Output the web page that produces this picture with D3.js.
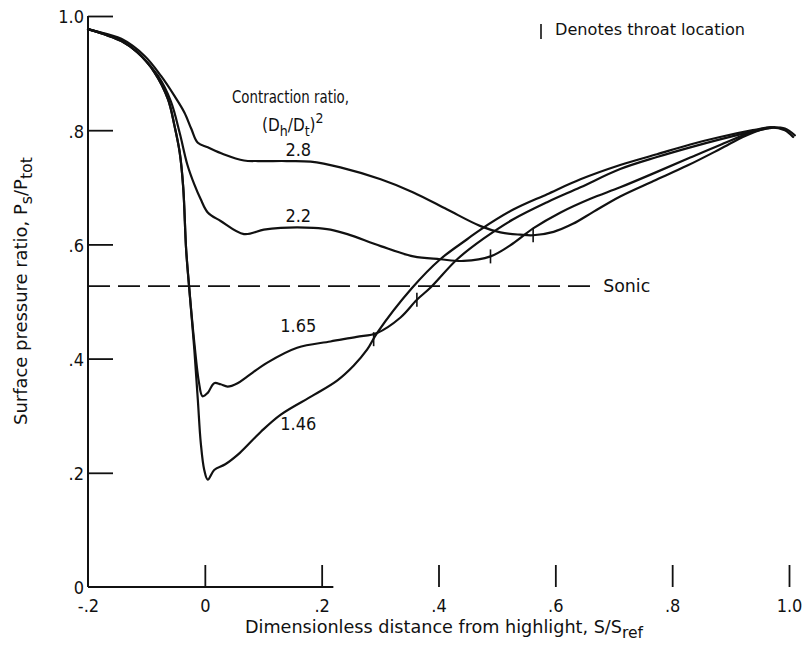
<!DOCTYPE html>
<html>
<head>
<meta charset="utf-8">
<script src="https://cdn.jsdelivr.net/npm/d3@7"></script>
<style>
  html, body { margin: 0; padding: 0; background: #fff; }
  svg { display: block; }
  text { font-family: "DejaVu Sans Condensed", "Liberation Sans Narrow", "DejaVu Sans", sans-serif; fill: #111; }
</style>
</head>
<body>
<script>
// ---------- DATA ----------
const xTicks = [-0.2, 0, 0.2, 0.4, 0.6, 0.8, 1.0];
const xTickLabels = ["-.2", "0", ".2", ".4", ".6", ".8", "1.0"];
const yTicks = [0, 0.2, 0.4, 0.6, 0.8, 1.0];
const yTickLabels = ["0", ".2", ".4", ".6", ".8", "1.0"];

const sonicRatio = 0.527;
const curveLabels = ["2.8", "2.2", "1.65", "1.46"];

const curve28 = [[-0.2,0.977],[-0.189,0.974],[-0.143,0.960],[-0.103,0.930],[-0.075,0.895],[-0.052,0.860],[-0.035,0.831],[-0.023,0.802],[-0.012,0.778],[0.005,0.770],[0.032,0.758],[0.067,0.747],[0.091,0.746],[0.14,0.746],[0.181,0.745],[0.232,0.735],[0.301,0.714],[0.357,0.691],[0.415,0.661],[0.472,0.632],[0.506,0.621],[0.540,0.617],[0.562,0.616],[0.597,0.622],[0.630,0.636],[0.665,0.657],[0.711,0.684],[0.768,0.711],[0.826,0.738],[0.882,0.767],[0.925,0.790],[0.96,0.803],[0.975,0.805]];
const curve22 = [[-0.2,0.977],[-0.143,0.957],[-0.109,0.930],[-0.080,0.895],[-0.058,0.850],[-0.043,0.795],[-0.030,0.740],[-0.018,0.705],[-0.007,0.679],[0.005,0.656],[0.027,0.641],[0.067,0.618],[0.101,0.626],[0.13,0.629],[0.186,0.629],[0.215,0.626],[0.244,0.618],[0.301,0.597],[0.357,0.579],[0.403,0.574],[0.443,0.571],[0.489,0.579],[0.528,0.602],[0.562,0.628],[0.609,0.656],[0.66,0.680],[0.711,0.700],[0.774,0.727],[0.831,0.752],[0.882,0.774],[0.938,0.797],[0.97,0.804]];
const curve165 = [[-0.2,0.977],[-0.143,0.956],[-0.115,0.936],[-0.086,0.901],[-0.063,0.854],[-0.052,0.808],[-0.043,0.761],[-0.037,0.700],[-0.032,0.591],[-0.027,0.527],[-0.018,0.428],[-0.010,0.358],[-0.004,0.334],[0.005,0.340],[0.016,0.357],[0.027,0.355],[0.039,0.351],[0.056,0.357],[0.073,0.369],[0.107,0.393],[0.158,0.419],[0.215,0.430],[0.26,0.438],[0.295,0.445],[0.335,0.472],[0.363,0.503],[0.386,0.524],[0.432,0.574],[0.477,0.610],[0.528,0.644],[0.586,0.674],[0.643,0.700],[0.711,0.732],[0.774,0.753],[0.831,0.770],[0.882,0.784],[0.938,0.798],[0.968,0.805],[0.993,0.800],[1.007,0.788]];
const curve146 = [[-0.2,0.977],[-0.143,0.956],[-0.115,0.936],[-0.086,0.901],[-0.063,0.854],[-0.052,0.808],[-0.043,0.761],[-0.037,0.700],[-0.032,0.591],[-0.027,0.527],[-0.018,0.416],[-0.012,0.328],[-0.007,0.253],[-0.001,0.205],[0.005,0.188],[0.016,0.205],[0.035,0.215],[0.060,0.235],[0.096,0.272],[0.130,0.302],[0.186,0.336],[0.227,0.362],[0.255,0.388],[0.278,0.416],[0.295,0.445],[0.355,0.524],[0.403,0.574],[0.449,0.609],[0.472,0.626],[0.528,0.661],[0.586,0.688],[0.643,0.714],[0.711,0.739],[0.774,0.758],[0.831,0.775],[0.882,0.788],[0.938,0.800],[0.968,0.805],[0.993,0.803],[1.010,0.791]];

// throat locations [S/Sref, Ps/Ptot]
const throat28 = [0.562, 0.616];
const throat22 = [0.489, 0.579];
const throat165 = [0.363, 0.503];
const throat146 = [0.289, 0.434];

// ---------- CHART ----------
const W = 809, H = 651;
const svg = d3.select("body").append("svg").attr("width", W).attr("height", H);

const x = d3.scaleLinear().domain([-0.2, 1.0]).range([88, 789]);
const y = d3.scaleLinear().domain([0, 1.0]).range([587, 16]);

const INK = "#111";

// y axis
const yAxis = d3.axisLeft(y).tickValues(yTicks).tickSize(-25).tickPadding(4)
  .tickFormat((d, i) => yTickLabels[i]);
const gy = svg.append("g").attr("transform", `translate(${x(-0.2)},0)`).call(yAxis);
gy.select(".domain").remove();
gy.selectAll(".tick line").attr("stroke", INK).attr("stroke-width", 1.8);
gy.selectAll(".tick text").attr("font-size", 18).attr("font-family", null).attr("fill", INK).attr("dy", "0.38em");
gy.selectAll(".tick").filter(d => d === 0).select("line").remove();

// x axis
const xAxis = d3.axisBottom(x).tickValues(xTicks).tickSize(-22).tickPadding(12)
  .tickFormat((d, i) => xTickLabels[i]);
const gx = svg.append("g").attr("transform", `translate(0,${y(0)})`).call(xAxis);
gx.select(".domain").remove();
gx.selectAll(".tick line").attr("stroke", INK).attr("stroke-width", 1.8);
gx.selectAll(".tick text").attr("font-size", 18).attr("font-family", null).attr("fill", INK);
gx.selectAll(".tick").filter(d => d === -0.2).select("line").remove();

// axis lines (bottom line is faded out in the scan after ~0.22)
svg.append("line").attr("x1", x(-0.2)).attr("x2", x(-0.2)).attr("y1", y(1.0)).attr("y2", y(0))
  .attr("stroke", INK).attr("stroke-width", 2);
svg.append("line").attr("x1", x(-0.2)).attr("x2", x(0.22)).attr("y1", y(0)).attr("y2", y(0))
  .attr("stroke", INK).attr("stroke-width", 1.8);

// sonic line
svg.append("line").attr("x1", x(-0.2)).attr("x2", x(0.668)).attr("y1", y(sonicRatio)).attr("y2", y(sonicRatio))
  .attr("stroke", INK).attr("stroke-width", 1.7).attr("stroke-dasharray", "22,8");
svg.append("text").attr("x", x(0.682)).attr("y", y(sonicRatio) + 6).attr("font-size", 17)
  .attr("textLength", 47).attr("lengthAdjust", "spacingAndGlyphs").text("Sonic");

// curves
const line = d3.line().x(d => x(d[0])).y(d => y(d[1])).curve(d3.curveCatmullRom.alpha(0.5));
const curves = [curve28, curve22, curve165, curve146];
svg.append("g").selectAll("path").data(curves).join("path")
  .attr("d", line).attr("fill", "none").attr("stroke", INK).attr("stroke-width", 2.2)
  .attr("stroke-linejoin", "round").attr("stroke-linecap", "round");

// throat ticks
const throats = [throat28, throat22, throat165, throat146];
svg.append("g").selectAll("line").data(throats).join("line")
  .attr("x1", d => x(d[0])).attr("x2", d => x(d[0]))
  .attr("y1", d => y(d[1]) - 7).attr("y2", d => y(d[1]) + 7)
  .attr("stroke", INK).attr("stroke-width", 1.6);

// curve labels
const labelPos = [[0.16, 0.754], [0.16, 0.640], [0.16, 0.447], [0.16, 0.275]];
svg.append("g").selectAll("text").data(curveLabels).join("text")
  .attr("x", (d, i) => x(labelPos[i][0])).attr("y", (d, i) => y(labelPos[i][1]))
  .attr("text-anchor", "middle").attr("font-size", 18).text(d => d);

// contraction ratio title
svg.append("text").attr("x", 232).attr("y", 103).attr("font-size", 17)
  .attr("textLength", 117).attr("lengthAdjust", "spacingAndGlyphs").text("Contraction ratio,");
const cr = svg.append("text").attr("x", 262).attr("y", 131).attr("font-size", 17);
cr.append("tspan").text("(D");
cr.append("tspan").attr("dy", 5).attr("font-size", 14).text("h");
cr.append("tspan").attr("dy", -5).text("/D");
cr.append("tspan").attr("dy", 5).attr("font-size", 14).text("t");
cr.append("tspan").attr("dy", -5).text(")");
cr.append("tspan").attr("dy", -8).attr("font-size", 14).text("2");

// legend
svg.append("line").attr("x1", 541).attr("x2", 541).attr("y1", 24).attr("y2", 39)
  .attr("stroke", INK).attr("stroke-width", 1.6);
svg.append("text").attr("x", 555).attr("y", 35).attr("font-size", 16)
  .attr("textLength", 190).attr("lengthAdjust", "spacingAndGlyphs").text("Denotes throat location");

// x axis title
const xt = svg.append("text").attr("x", 245).attr("y", 633).attr("font-size", 17)
  .attr("textLength", 398).attr("lengthAdjust", "spacingAndGlyphs");
xt.append("tspan").text("Dimensionless distance from highlight,  S/S");
xt.append("tspan").attr("dy", 5).attr("font-size", 15).text("ref");

// y axis title
const yt = svg.append("text").attr("transform", "translate(27,425) rotate(-90)").attr("font-size", 17)
  .attr("textLength", 268).attr("lengthAdjust", "spacingAndGlyphs");
yt.append("tspan").text("Surface pressure ratio,  P");
yt.append("tspan").attr("dy", 5).attr("font-size", 15).text("s");
yt.append("tspan").attr("dy", -5).text("/P");
yt.append("tspan").attr("dy", 5).attr("font-size", 15).text("tot");
</script>
</body>
</html>
